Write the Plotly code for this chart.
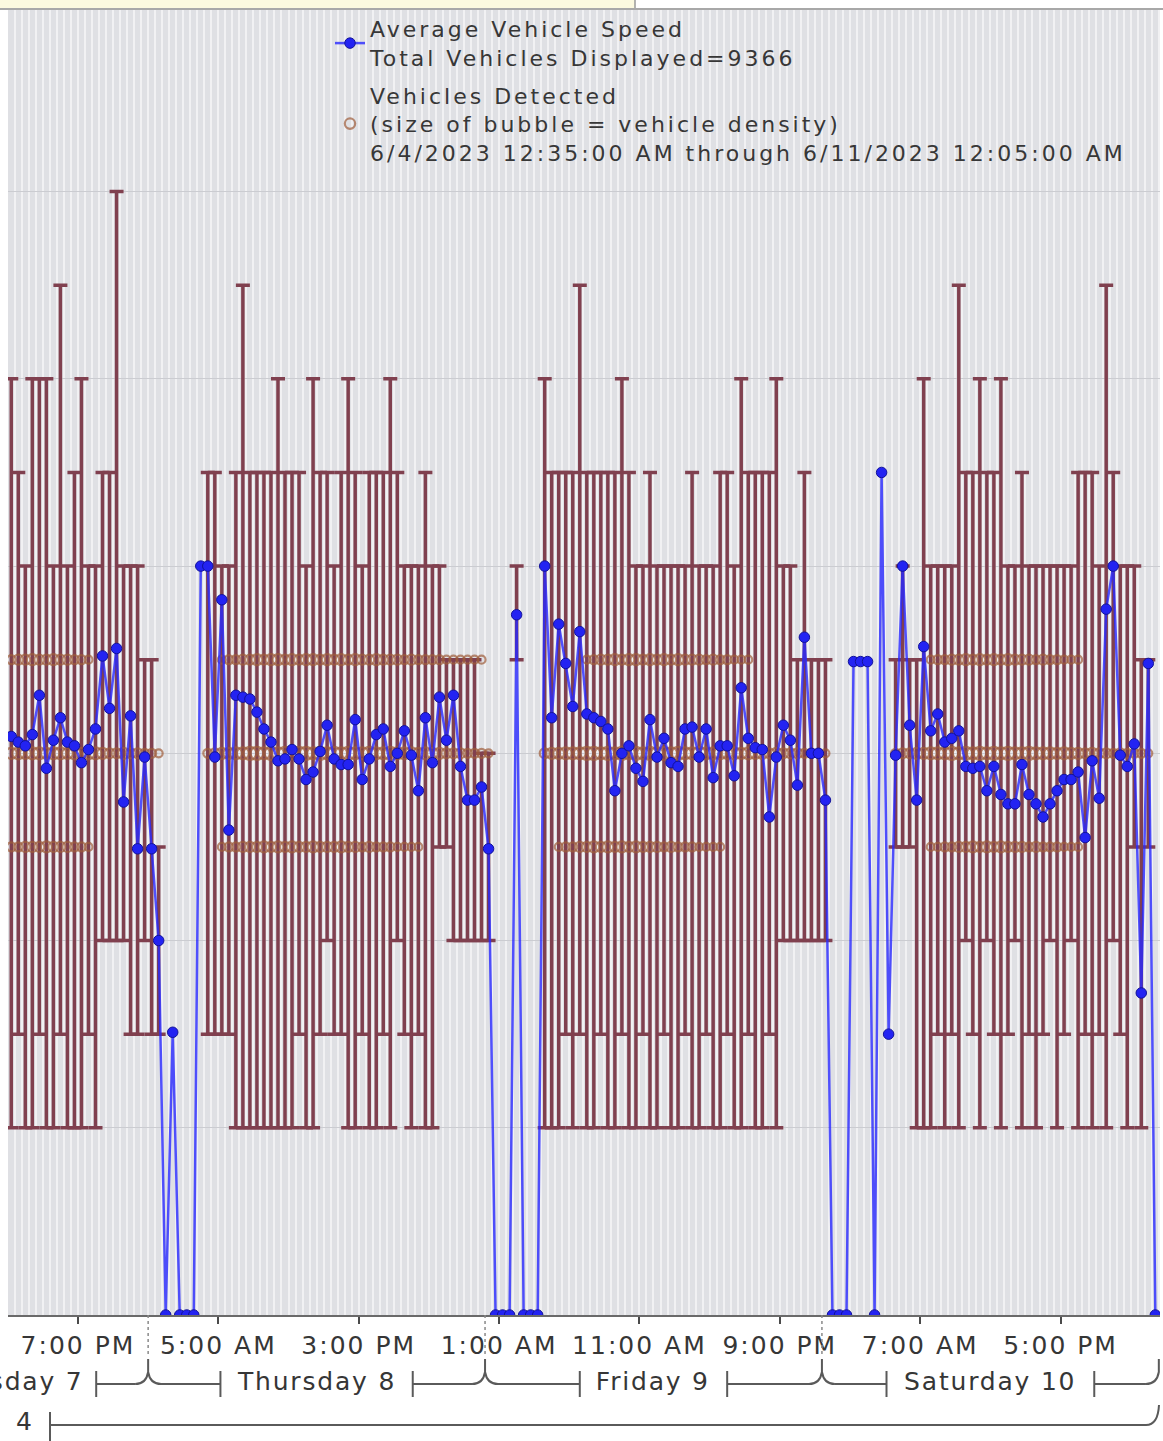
import plotly.graph_objects as go
import pandas as pd

# ---------------- data ----------------
# 30-minute readings starting 6/7/2023 2:15 PM
START = "2023-06-07 14:15"
STEP = "30min"

SPEED = [
    30.9, 30.6, 30.4, 31.0, 33.1, 29.2, 30.7, 31.9, 30.6, 30.4, 29.5, 30.2, 31.3, 35.2, 32.4, 35.6, 27.4, 32.0, 24.9, 29.8, 24.9, 20.0,
    0, 15.1, 0, 0, 0, 40.0,
    40.0, 29.8, 38.2, 25.9, 33.1, 33.0, 32.9, 32.2, 31.3, 30.6,
    29.6, 29.7, 30.2, 29.7, 28.6, 29.0, 30.1, 31.5, 29.7, 29.4,
    29.4, 31.8, 28.6, 29.7, 31.0, 31.3, 29.3, 30.0, 31.2, 29.9,
    28.0, 31.9, 29.5, 33.0, 30.7, 33.1, 29.3, 27.5, 27.5, 28.2,
    24.9,
    0, 0, 0, 37.4, 0, 0, 0,
    40.0, 31.9, 36.9, 34.8, 32.5, 36.5, 32.1, 31.9, 31.7, 31.3,
    28.0, 30.0, 30.4, 29.2, 28.5, 31.8, 29.8, 30.8, 29.5, 29.3,
    31.3, 31.4, 29.8, 31.3, 28.7, 30.4, 30.4, 28.8, 33.5, 30.8,
    30.3, 30.2, 26.6, 29.8, 31.5, 30.7, 28.3, 36.2, 30.0, 30.0,
    27.5,
    0, 0, 0, 34.9, 34.9, 34.9, 0, 45.0, 15.0,
    29.9, 40.0, 31.5, 27.5, 35.7, 31.2, 32.1, 30.6, 30.8, 31.2,
    29.3, 29.2, 29.3, 28.0, 29.3, 27.8, 27.3, 27.3, 29.4, 27.8,
    27.3, 26.6, 27.3, 28.0, 28.6, 28.6, 29.0, 25.5, 29.6, 27.6,
    37.7, 40.0, 29.9, 29.3, 30.5, 17.2, 34.8,
    0,
]

N = None
BAR_LOW = (
    [10, 15, 10, 10, 15, 10, 10, 15, 10, 10, 10, 15, 10, 20, 20, 20, 20, 15, 15, 20, 15, 15]
    + [N] * 6
    + [15, 15, 15, 15, 10, 10, 10, 10, 10, 10, 10, 10, 10, 15, 10, 10, 15, 20, 15, 15,
       10, 10, 15, 10, 10, 15, 10, 20, 15, 10, 15, 10, 10, 25, 25, 20, 20, 20, 20, 20, 20]
    + [N, N, N, 35, N, N, N]
    + [10, 10, 10, 15, 10, 15, 10, 10, 15, 10, 10, 15, 10, 10, 15, 10, 10, 15, 10, 10,
       15, 10, 10, 15, 10, 10, 15, 10, 10, 15, 10, 10, 15, 10, 20, 20, 20, 20, 20, 20, 20]
    + [N] * 9
    + [25, 25, 25, 10, 10, 10, 15, 10, 15, 10, 20, 15, 10, 20, 15, 10, 15, 20, 10, 15,
       10, 15, 20, 10, 15, 20, 10, 15, 10, 15, 10, 20, 15, 10, 25, 10, 25]
    + [N]
)
BAR_HIGH = (
    [50, 45, 40, 50, 50, 50, 40, 55, 40, 45, 50, 40, 40, 45, 45, 60, 40, 40, 40, 35, 35, 25]
    + [N] * 6
    + [45, 45, 40, 40, 45, 55, 45, 45, 45, 45, 50, 45, 45, 45, 40, 50, 45, 45, 40, 45,
       50, 45, 40, 45, 45, 45, 50, 45, 40, 40, 40, 45, 40, 40, 35, 35, 35, 35, 35, 30, 30]
    + [N, N, N, 40, N, N, N]
    + [50, 45, 45, 45, 45, 55, 45, 45, 45, 45, 45, 50, 45, 40, 40, 45, 40, 40, 40, 40,
       40, 45, 40, 40, 40, 45, 45, 40, 50, 45, 45, 45, 45, 50, 40, 40, 35, 45, 35, 35, 35]
    + [N] * 9
    + [35, 40, 35, 35, 50, 40, 40, 40, 40, 55, 45, 45, 50, 45, 45, 50, 40, 40, 45, 40,
       40, 40, 40, 40, 40, 40, 45, 45, 45, 40, 55, 45, 40, 40, 40, 35, 35]
    + [N]
)

BUBBLE_LEVELS = [25, 30, 35]
BUB25 = (
    [9, 9, 10, 10, 10, 11, 10, 10, 10, 9, 9, 8]
    + [0] * 18
    + [8, 9, 9, 10, 10, 10, 11, 10, 11, 10, 11, 10, 10, 11, 10, 10, 10, 11, 10, 10,
       9, 10, 9, 9, 9, 8, 8, 8, 8]
    + [0] * 19
    + [8, 9, 9, 10, 10, 11, 10, 11, 10, 11, 10, 11, 10, 10, 10, 9, 10, 9, 9, 9, 8, 8, 8, 8]
    + [0] * 29
    + [8, 8, 9, 9, 10, 10, 11, 10, 11, 10, 11, 10, 10, 10, 9, 10, 9, 9, 9, 8, 8, 8]
    + [0] * 11
)
BUB30 = (
    [11, 12, 11, 12, 12, 11, 12, 12, 11, 12, 11, 12, 12, 11, 10, 10, 11, 10, 10, 9, 9, 8]
    + [0] * 6
    + [9, 10, 11, 11, 12, 12, 13, 13, 12, 13, 12, 13, 12, 13, 13, 12, 13, 12, 13, 12,
       13, 12, 12, 13, 12, 12, 13, 12, 12, 12, 11, 12, 11, 11, 10, 10, 10, 9, 9, 9, 8]
    + [0] * 7
    + [10, 11, 11, 12, 12, 12, 13, 13, 12, 13, 12, 13, 12, 13, 12, 13, 12, 13, 12, 13,
       12, 12, 13, 12, 12, 12, 11, 12, 11, 12, 11, 11, 10, 11, 10, 10, 10, 9, 9, 9, 8]
    + [0] * 9
    + [9, 10, 10, 11, 11, 12, 12, 12, 13, 12, 13, 12, 13, 12, 13, 12, 13, 12, 12, 13,
       12, 12, 12, 11, 12, 11, 11, 10, 11, 10, 10, 9, 10, 9, 9, 9, 8]
    + [0]
)
BUB35 = (
    [9, 10, 10, 11, 10, 10, 11, 10, 10, 9, 9, 8]
    + [0] * 18
    + [8, 9, 9, 10, 10, 11, 10, 11, 11, 10, 11, 10, 11, 11, 10, 11, 10, 11, 10, 11,
       10, 10, 11, 10, 10, 10, 9, 10, 9, 9, 9, 9, 8, 8, 8, 8, 8, 8]
    + [0] * 14
    + [8, 9, 10, 10, 11, 10, 11, 11, 10, 11, 10, 11, 10, 11, 10, 10, 10, 9, 10, 9, 9, 8, 8, 8]
    + [0] * 25
    + [8, 9, 9, 10, 10, 11, 10, 11, 10, 11, 10, 11, 10, 10, 10, 9, 10, 9, 9, 8, 8, 8]
    + [0] * 11
)

X_TICK_START = "2023-06-07 19:00"
X_RANGE = ["2023-06-07 14:01", "2023-06-11 00:05"]
MIDNIGHTS = ["2023-06-08", "2023-06-09", "2023-06-10", "2023-06-11"]
DAY_LABELS = ["Wednesday 7", "Thursday 8", "Friday 9", "Saturday 10"]
DAY_CENTERS = ["2023-06-07 12:00", "2023-06-08 12:00", "2023-06-09 12:00", "2023-06-10 12:00"]
DAY_GAP_H = [8.3, 6.85, 5.25, 7.4]

SPEED_NAME = "Average Vehicle Speed<br>Total Vehicles Displayed=9366"
BUBBLE_NAME = ("Vehicles Detected<br>(size of bubble = vehicle density)<br>"
               "6/4/2023 12:35:00 AM through 6/11/2023 12:05:00 AM")

for arr in (SPEED, BAR_LOW, BAR_HIGH, BUB25, BUB30, BUB35):
    assert len(arr) == len(SPEED), len(arr)

TIMES = pd.date_range(START, periods=len(SPEED), freq=STEP)

# ---------------- geometry helpers (page pixels -> paper) ----------------
W, H = 1163, 1441
PL, PR, PT, PB = 8, 1160, 10, 1315


def px_x(X):
    return (X - PL) / (PR - PL)


def px_y(Y):
    return (PB - Y) / (PB - PT)


FONT = "DejaVu Sans"
TXT = "#363636"
BRK = "#5a5a5a"

fig = go.Figure()

# range bars
bx, blo, bup = [], [], []
for t, lo, hi in zip(TIMES, BAR_LOW, BAR_HIGH):
    if lo is not None and hi is not None:
        bx.append(t)
        blo.append(lo)
        bup.append(hi - lo)
fig.add_trace(go.Scatter(
    x=bx, y=blo, mode="markers",
    marker=dict(size=2, color="rgba(0,0,0,0)"),
    error_y=dict(type="data", symmetric=False, array=bup, arrayminus=[0] * len(bup),
                 color="#80404f", thickness=3.5, width=7),
    showlegend=False, hoverinfo="skip",
))

# bubbles
ux, uy, us = [], [], []
for level, sizes in zip(BUBBLE_LEVELS, (BUB25, BUB30, BUB35)):
    for t, s in zip(TIMES, sizes):
        if s:
            ux.append(t)
            uy.append(level)
            us.append(s)
fig.add_trace(go.Scatter(
    x=ux, y=uy, mode="markers", name=BUBBLE_NAME, legendrank=2, legendgroup="bubbles",
    marker=dict(symbol="circle-open", size=us, sizeref=1.0, sizemode="diameter",
                color="#9e5c3b", line=dict(width=2.2)),
    hoverinfo="skip",
))

# average speed
fig.add_trace(go.Scatter(
    x=TIMES, y=SPEED, mode="lines+markers", name=SPEED_NAME, legendrank=1, legendgroup="speed",
    line=dict(color="rgba(40,40,255,0.8)", width=2.5),
    marker=dict(size=10.5, color="#2323f2", line=dict(color="#12129a", width=1)),
))

# ---------------- decorations ----------------
shapes = []
# top strip
shapes.append(dict(type="rect", xref="paper", yref="paper", x0=px_x(0), x1=px_x(635),
                   y0=px_y(0), y1=px_y(8), fillcolor="#fbf9df", line=dict(width=0), layer="above"))
shapes.append(dict(type="line", xref="paper", yref="paper", x0=px_x(635), x1=px_x(635),
                   y0=px_y(0), y1=px_y(9), line=dict(color="#9a9a9a", width=1.5)))
shapes.append(dict(type="line", xref="paper", yref="paper", x0=px_x(0), x1=px_x(W),
                   y0=px_y(9), y1=px_y(9), line=dict(color="#a8a8a8", width=2)))

# day separators + bracket junctions
for i, m in enumerate(MIDNIGHTS):
    if i < len(MIDNIGHTS) - 1:
        shapes.append(dict(type="line", xref="x", yref="paper", x0=m, x1=m, y0=0, y1=px_y(1355),
                           line=dict(color="#8a8a8a", width=1.5, dash="dot")))
        path = "M -13,-69 Q -2,-69 0,-57 Q 2,-69 13,-69 M 0,-57 L 0,-44"
    else:
        path = "M -13,-69 Q -2,-69 0,-57 L 0,-44"
    shapes.append(dict(type="path", xref="x", xsizemode="pixel", xanchor=m,
                       yref="paper", ysizemode="pixel", yanchor=0, path=path,
                       line=dict(color=BRK, width=2)))

annotations = []
for i, (lab, c, g) in enumerate(zip(DAY_LABELS, DAY_CENTERS, DAY_GAP_H)):
    c = pd.Timestamp(c)
    day0 = c - pd.Timedelta(hours=12)
    day1 = c + pd.Timedelta(hours=12)
    lb = c - pd.Timedelta(hours=g)
    rb = c + pd.Timedelta(hours=g)
    arm = pd.Timedelta(minutes=55)
    for b in (lb, rb):
        shapes.append(dict(type="line", xref="x", yref="paper", x0=b, x1=b,
                           y0=px_y(1371), y1=px_y(1397), line=dict(color=BRK, width=2)))
    shapes.append(dict(type="line", xref="x", yref="paper", x0=day0 + arm, x1=lb,
                       y0=px_y(1384), y1=px_y(1384), line=dict(color=BRK, width=2)))
    shapes.append(dict(type="line", xref="x", yref="paper", x0=rb, x1=day1 - arm,
                       y0=px_y(1384), y1=px_y(1384), line=dict(color=BRK, width=2)))
    if i == 0:
        annotations.append(dict(text=lab, xref="paper", yref="paper", x=px_x(76), y=px_y(1381),
                                xanchor="right", yanchor="middle", showarrow=False,
                                font=dict(family=FONT, size=25, color=TXT)))
    else:
        annotations.append(dict(text=lab, xref="x", yref="paper", x=c, y=px_y(1381),
                                xanchor="center", yanchor="middle", showarrow=False,
                                font=dict(family=FONT, size=25, color=TXT)))

# bottom (week) bracket
shapes.append(dict(type="line", xref="paper", yref="paper", x0=px_x(50), x1=px_x(50),
                   y0=px_y(1412), y1=px_y(1441), line=dict(color=BRK, width=2)))
shapes.append(dict(type="line", xref="paper", yref="paper", x0=px_x(50), x1=px_x(1146),
                   y0=px_y(1425), y1=px_y(1425), line=dict(color=BRK, width=2)))
shapes.append(dict(type="path", xref="paper", yref="paper",
                   path=f"M {px_x(1146)},{px_y(1425)} Q {px_x(1158)},{px_y(1425)} {px_x(1159)},{px_y(1405)}",
                   line=dict(color=BRK, width=2)))
annotations.append(dict(text="4", xref="paper", yref="paper", x=px_x(25), y=px_y(1421),
                        xanchor="center", yanchor="middle", showarrow=False,
                        font=dict(family=FONT, size=25, color=TXT)))

fig.update_layout(
    width=W, height=H, autosize=False,
    margin=dict(l=PL, r=W - PR, t=PT, b=H - PB),
    paper_bgcolor="white", plot_bgcolor="#dfe0e4",
    font=dict(family=FONT, color=TXT),
    shapes=shapes, annotations=annotations,
    showlegend=True,
    legend=dict(x=px_x(330), y=px_y(8), xanchor="left", yanchor="top",
                bgcolor="rgba(0,0,0,0)", font=dict(family=FONT, size=22, color=TXT),
                traceorder="grouped", tracegroupgap=6, itemwidth=30),
    hovermode=False,
)
fig.update_xaxes(
    type="date", range=X_RANGE, tick0=X_TICK_START, dtick=10 * 3600 * 1000,
    tickformat="%-I:%M %p", ticks="outside", ticklen=7, tickwidth=2, tickcolor="#4a4a4a",
    showline=True, linecolor="#6a6a6a", linewidth=2, mirror=False,
    showgrid=True, gridcolor="#f1f1f3", gridwidth=2,
    minor=dict(dtick=30 * 60 * 1000, tick0=X_TICK_START, showgrid=True,
               gridcolor="#f1f1f3", gridwidth=2),
    tickfont=dict(family=FONT, size=25, color=TXT), zeroline=False,
)
fig.update_yaxes(
    range=[0, 69.7], dtick=10, showticklabels=False, ticks="",
    showgrid=True, gridcolor="#cbccd1", gridwidth=1, zeroline=False, showline=False,
)

# page: no body margin; text drawn a little wider, as in the stretched reference screenshot.
# A small relayout afterwards makes plotly re-measure the legend text with the new spacing.
POST = """
document.body.style.margin = '0px';
var st = document.createElement('style');
st.innerHTML = '.legendtext{letter-spacing:3px}' +
               '.xtick text{letter-spacing:2px}' +
               '.annotation-text{letter-spacing:1.8px}';
document.head.appendChild(st);
var gd = document.getElementById('{plot_id}');
return Plotly.relayout(gd, {'legend.font.color': '#373737'});
"""

fig.write_html("out.html", post_script=POST, config={"displayModeBar": False})
